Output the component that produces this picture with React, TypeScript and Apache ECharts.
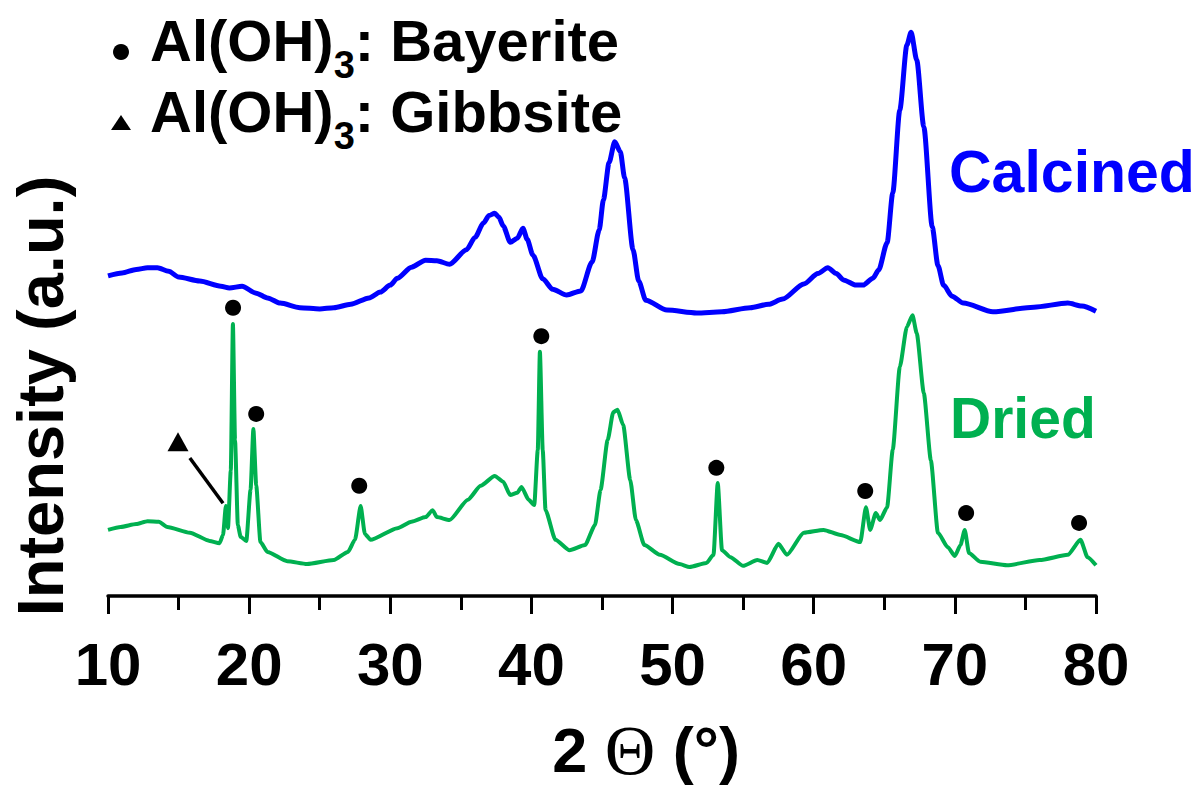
import React, { useEffect, useRef } from "react";
import * as echarts from "echarts";

// 2θ (degrees) and intensity (a.u., stacked with offset) for the calcined sample
const calcinedTheta = [10.0, 11.0, 12.0, 12.8, 13.5, 14.3, 15.0, 16.5, 18.0, 18.6, 19.5, 20.5, 21.3, 22.2, 23.6, 25.0, 26.0, 27.2, 28.5, 29.3, 30.0, 30.5, 31.5, 32.5, 33.3, 34.2, 35.4, 36.0, 36.6, 37.0, 37.4, 37.7, 38.0, 38.5, 39.0, 39.4, 39.7, 40.1, 40.8, 41.5, 42.5, 43.5, 44.3, 44.8, 45.1, 45.5, 45.9, 46.3, 46.6, 47.2, 47.6, 48.1, 49.6, 51.7, 53.5, 55.5, 56.8, 57.8, 59.3, 60.3, 61.0, 61.6, 62.1, 63.0, 63.5, 64.2, 64.6, 65.2, 65.6, 66.1, 66.6, 66.9, 67.3, 67.8, 68.4, 68.8, 69.2, 69.8, 70.6, 72.7, 75.6, 78.0, 79.0, 80.0];
const calcinedIntensity = [55.2, 55.7, 56.3, 56.6, 56.6, 56.0, 55.0, 54.3, 53.4, 53.1, 53.4, 52.2, 51.4, 50.5, 49.7, 49.5, 49.7, 50.3, 51.4, 52.4, 53.6, 54.8, 56.7, 57.9, 57.8, 57.2, 59.7, 61.8, 64.3, 65.6, 66.0, 65.3, 63.8, 61.0, 61.7, 63.4, 61.5, 58.8, 54.7, 52.9, 51.9, 52.6, 57.6, 63.1, 68.3, 74.7, 78.3, 76.6, 72.1, 59.7, 54.3, 51.0, 49.3, 48.8, 49.0, 49.7, 50.3, 51.2, 53.8, 55.6, 56.6, 55.6, 54.5, 53.6, 53.6, 54.8, 56.2, 60.9, 69.5, 83.8, 95.0, 97.2, 92.4, 80.9, 63.6, 57.0, 53.6, 51.7, 50.5, 49.0, 49.8, 50.5, 50.0, 49.1];

// dried sample
const driedTheta = [10.0, 10.9, 12.0, 12.8, 13.6, 14.2, 15.8, 17.2, 17.9, 18.15, 18.35, 18.5, 18.7, 18.85, 19.0, 19.2, 19.4, 19.8, 20.1, 20.3, 20.5, 20.8, 21.3, 22.7, 24.1, 26.0, 27.0, 27.5, 27.9, 28.2, 28.6, 30.5, 31.5, 32.5, 33.0, 33.3, 34.2, 35.5, 36.4, 37.4, 38.0, 38.5, 39.0, 39.3, 39.8, 40.2, 40.45, 40.6, 40.8, 41.0, 41.7, 42.7, 43.8, 44.5, 44.9, 45.4, 45.8, 46.1, 46.5, 47.0, 47.4, 48.0, 49.1, 50.5, 51.2, 52.4, 52.9, 53.2, 53.5, 54.1, 55.0, 56.0, 56.7, 57.5, 58.1, 59.3, 60.7, 61.9, 63.3, 63.7, 64.0, 64.4, 64.7, 65.2, 65.6, 66.1, 66.6, 67.0, 67.3, 67.8, 68.3, 68.8, 69.5, 70.0, 70.4, 70.7, 71.0, 71.8, 73.7, 76.0, 78.0, 78.9, 79.4, 80.0];
const driedIntensity = [11.4, 11.9, 12.4, 12.9, 12.8, 11.9, 10.9, 9.5, 9.1, 10.5, 15.5, 11.7, 21.7, 46.9, 26.9, 12.2, 10.2, 9.5, 18.3, 28.8, 19.1, 9.3, 7.6, 6.0, 5.5, 6.2, 7.6, 9.7, 15.5, 10.7, 9.7, 11.7, 12.8, 13.6, 14.8, 13.6, 13.1, 16.6, 19.0, 20.7, 19.7, 17.4, 17.8, 18.8, 16.6, 15.7, 25.2, 42.1, 25.2, 14.8, 9.7, 7.9, 8.8, 12.2, 18.3, 26.9, 31.7, 32.1, 29.5, 20.0, 13.1, 8.8, 7.1, 5.5, 5.0, 5.7, 7.1, 19.5, 7.9, 6.7, 5.2, 6.2, 5.7, 9.0, 7.1, 10.9, 11.4, 10.5, 9.3, 15.3, 11.4, 14.3, 13.1, 15.3, 25.2, 39.5, 46.4, 48.4, 45.3, 35.0, 23.4, 10.9, 8.4, 6.9, 8.8, 11.4, 7.4, 5.9, 5.3, 6.2, 7.1, 9.7, 6.7, 5.3];

// phase markers
const bayeriteTheta = [18.86, 20.5, 27.8, 40.7, 53.1, 63.65, 70.8, 78.8];
const bayeriteY = [49.7, 31.4, 19.0, 44.8, 22.1, 18.1, 14.3, 12.6];
const gibbsiteTheta = [14.96];
const gibbsiteY = [26.6];
const gibbsiteLeaderTheta = [15.8, 18.15];
const gibbsiteLeaderY = [23.8, 16.0];

const xTicks = [10, 20, 30, 40, 50, 60, 70, 80];

const FONT = "'Liberation Sans', Arial, Helvetica, sans-serif";
const BLUE = "#0000FF";
const GREEN = "#00B050";

const zip = (a: number[], b: number[]) => a.map((v, i) => [v, b[i]]);

export default function App() {
  const ref = useRef<HTMLDivElement>(null);
  useEffect(() => {
    if (!ref.current) return;
    const chart = echarts.init(ref.current, null, { renderer: "svg" });
    const legendRow = (sym: any, y0: number, label: string) => [
      sym,
      {
        type: "text",
        x: 150,
        y: y0,
        style: {
          text: `{a|Al(OH)}{s|3}{a|${label}}`,
          align: "left",
          verticalAlign: "middle",
          rich: {
            a: { fontSize: 58, fontWeight: "bold", fontFamily: FONT, fill: "#000", lineHeight: 58 },
            s: { fontSize: 38, fontWeight: "bold", fontFamily: FONT, fill: "#000", verticalAlign: "top", padding: [50, 0, 0, 0] },
          },
        },
      },
    ];
    chart.setOption({
      animation: false,
      backgroundColor: "#fff",
      grid: { left: 108, right: 106, top: 16, bottom: 195, containLabel: false },
      xAxis: {
        type: "value",
        min: 10,
        max: 80,
        interval: 10,
        axisLine: { show: true, onZero: false, lineStyle: { color: "#000", width: 3.5 } },
        axisTick: { show: true, length: 18, lineStyle: { color: "#000", width: 3 } },
        minorTick: { show: true, splitNumber: 2, length: 14, lineStyle: { color: "#000", width: 3 } },
        splitLine: { show: false },
        axisLabel: {
          margin: 38,
          fontSize: 60,
          fontWeight: "bold",
          fontFamily: FONT,
          color: "#000",
          formatter: (v: number) => (xTicks.includes(v) ? String(v) : ""),
        },
      },
      yAxis: {
        type: "value",
        min: 0,
        max: 100,
        show: false,
      },
      series: [
        {
          name: "Calcined",
          type: "line",
          data: zip(calcinedTheta, calcinedIntensity),
          showSymbol: false,
          symbol: "none",
          smooth: 0.25,
          smoothMonotone: "x",
          lineStyle: { color: BLUE, width: 5 },
          z: 2,
        },
        {
          name: "Dried",
          type: "line",
          data: zip(driedTheta, driedIntensity),
          showSymbol: false,
          symbol: "none",
          smooth: 0.2,
          smoothMonotone: "x",
          lineStyle: { color: GREEN, width: 4 },
          z: 2,
        },
        {
          name: "Gibbsite leader",
          type: "line",
          data: zip(gibbsiteLeaderTheta, gibbsiteLeaderY),
          symbol: "none",
          lineStyle: { color: "#000", width: 3.5 },
          z: 3,
        },
        {
          name: "Bayerite",
          type: "scatter",
          data: zip(bayeriteTheta, bayeriteY),
          symbol: "circle",
          symbolSize: 16,
          itemStyle: { color: "#000", opacity: 1 },
          z: 4,
        },
        {
          name: "Gibbsite",
          type: "scatter",
          data: zip(gibbsiteTheta, gibbsiteY),
          symbol: "triangle",
          symbolSize: [21, 19],
          itemStyle: { color: "#000", opacity: 1 },
          z: 4,
        },
      ],
      graphic: [
        ...legendRow({ type: "circle", shape: { cx: 121, cy: 52, r: 8 }, style: { fill: "#000" } }, 40, ": Bayerite"),
        ...legendRow({ type: "polygon", shape: { points: [[121, 115], [131, 130], [111, 130]] }, style: { fill: "#000" } }, 111, ": Gibbsite"),
        { type: "text", x: 949, y: 172, style: { text: "Calcined", fontSize: 59, fontWeight: "bold", fontFamily: FONT, fill: BLUE, align: "left", verticalAlign: "middle" } },
        { type: "text", x: 950, y: 418, style: { text: "Dried", fontSize: 57, fontWeight: "bold", fontFamily: FONT, fill: GREEN, align: "left", verticalAlign: "middle" } },
        {
          type: "text",
          x: 40,
          y: 396,
          rotation: Math.PI / 2,
          style: { text: "Intensity (a.u.)", fontSize: 65, fontWeight: "bold", fontFamily: FONT, fill: "#000", align: "center", verticalAlign: "middle" },
        },
        {
          type: "text",
          x: 646,
          y: 750,
          style: {
            text: "{b|2 }{t|Θ}{b| (°)}",
            align: "center",
            verticalAlign: "middle",
            rich: {
              b: { fontSize: 63, fontWeight: "bold", fontFamily: FONT, fill: "#000" },
              t: { fontSize: 70, fontWeight: "normal", fontFamily: "'Liberation Serif', 'DejaVu Serif', serif", fill: "#000" },
            },
          },
        },
      ],
    });
    return () => chart.dispose();
  }, []);
  return <div ref={ref} style={{ position: "fixed", left: 0, top: 0, width: 1202, height: 791 }} />;
}
